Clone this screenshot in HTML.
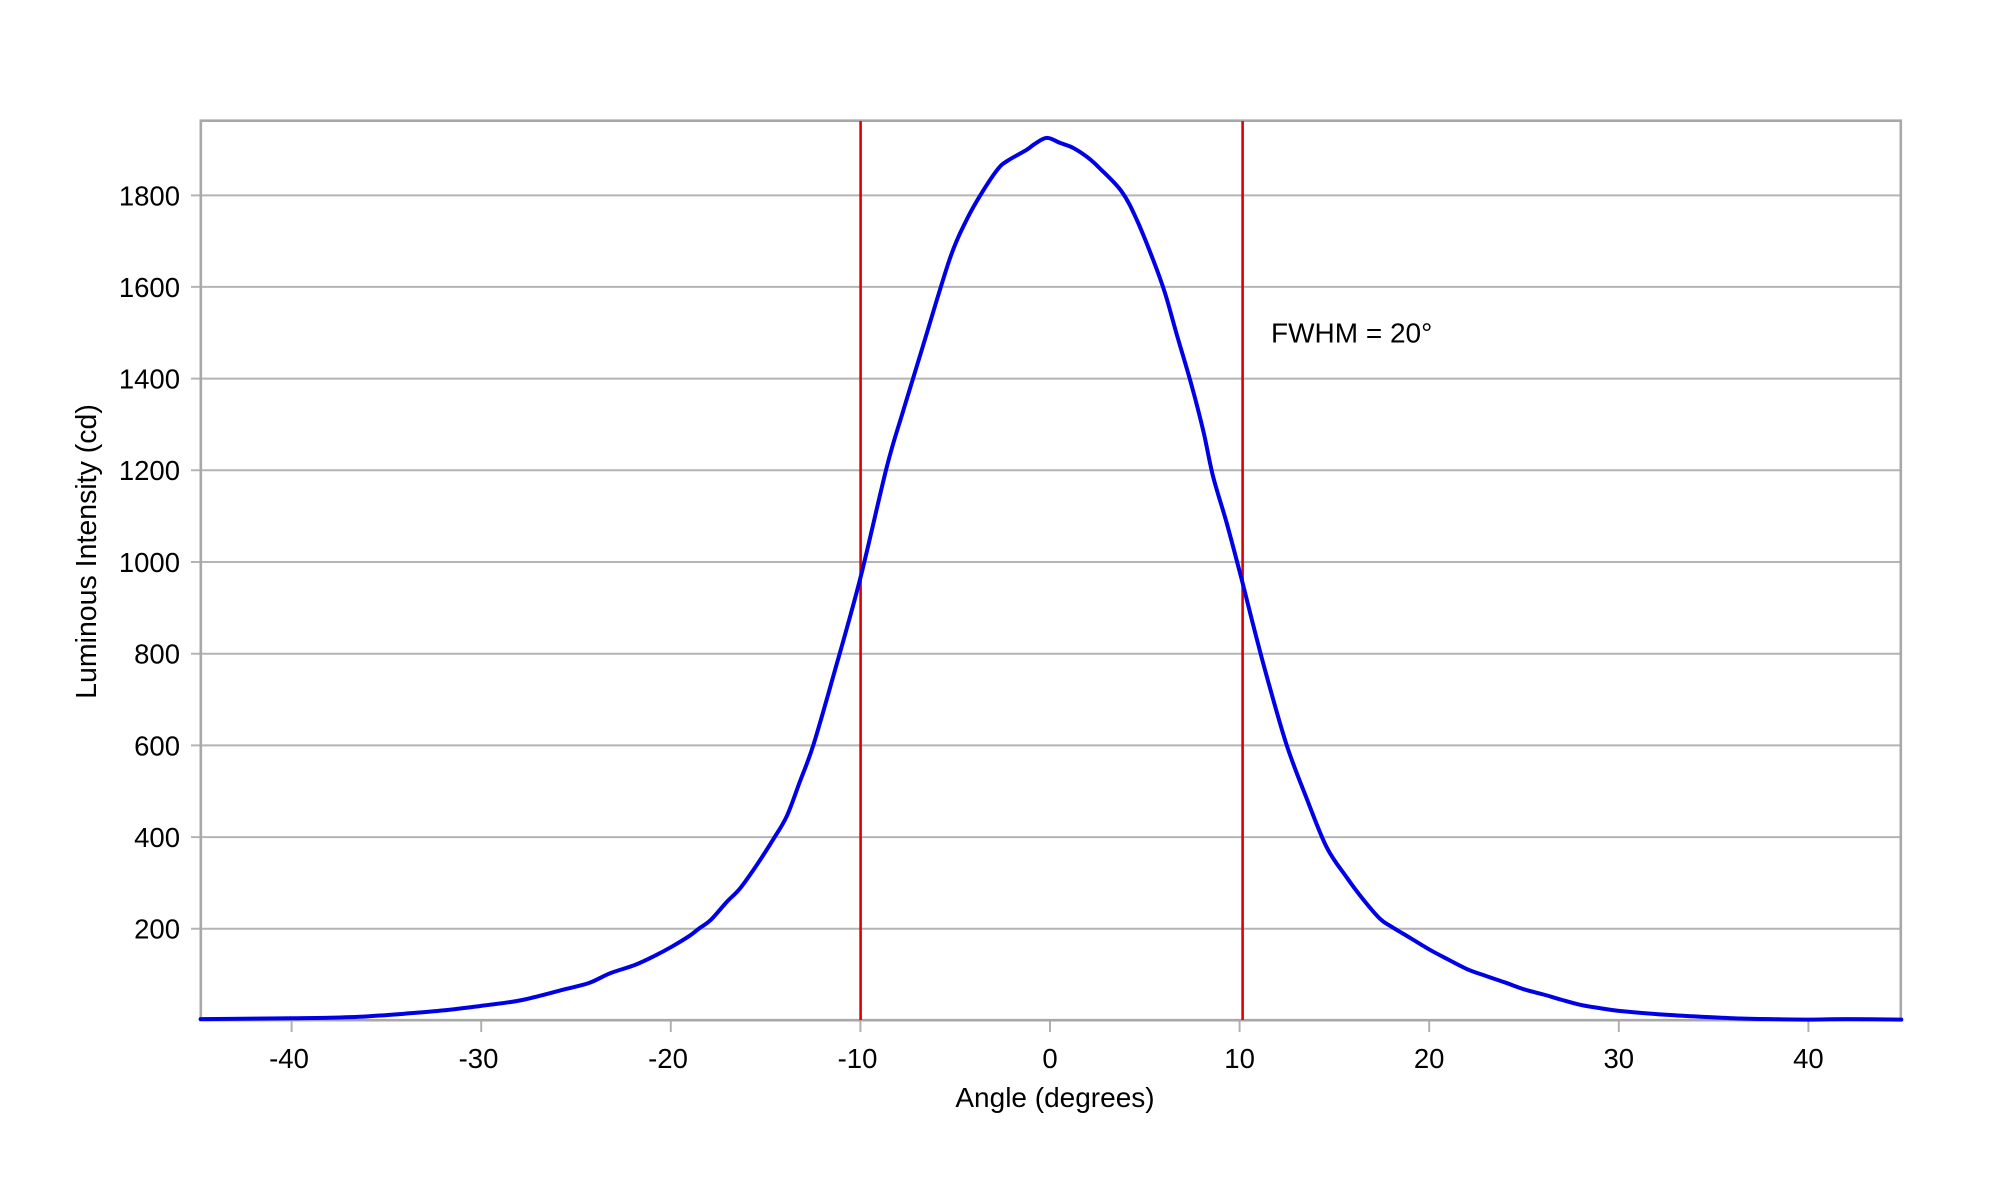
<!DOCTYPE html>
<html>
<head>
<meta charset="utf-8">
<style>
  html, body { margin:0; padding:0; background:#ffffff; }
  svg { display:block; }
  text { font-family: "Liberation Sans", Arial, sans-serif; fill:#000; }
</style>
</head>
<body>
<svg width="2000" height="1200" viewBox="0 0 2000 1200" xmlns="http://www.w3.org/2000/svg">
  <rect x="0" y="0" width="2000" height="1200" fill="#ffffff"/>

  <!-- horizontal grid lines -->
  <g stroke="#b4b4b4" stroke-width="2">
    <line x1="191" y1="928.8" x2="1901" y2="928.8"/>
    <line x1="191" y1="837.1" x2="1901" y2="837.1"/>
    <line x1="191" y1="745.4" x2="1901" y2="745.4"/>
    <line x1="191" y1="653.7" x2="1901" y2="653.7"/>
    <line x1="191" y1="562.0" x2="1901" y2="562.0"/>
    <line x1="191" y1="470.3" x2="1901" y2="470.3"/>
    <line x1="191" y1="378.6" x2="1901" y2="378.6"/>
    <line x1="191" y1="286.9" x2="1901" y2="286.9"/>
    <line x1="191" y1="195.4" x2="1901" y2="195.4"/>
  </g>

  <!-- x ticks -->
  <g stroke="#b0b0b0" stroke-width="2">
    <line x1="291.6" y1="1020" x2="291.6" y2="1032"/>
    <line x1="481.2" y1="1020" x2="481.2" y2="1032"/>
    <line x1="670.8" y1="1020" x2="670.8" y2="1032"/>
    <line x1="860.4" y1="1020" x2="860.4" y2="1032"/>
    <line x1="1050" y1="1020" x2="1050" y2="1032"/>
    <line x1="1239.6" y1="1020" x2="1239.6" y2="1032"/>
    <line x1="1429.2" y1="1020" x2="1429.2" y2="1032"/>
    <line x1="1618.8" y1="1020" x2="1618.8" y2="1032"/>
    <line x1="1808.4" y1="1020" x2="1808.4" y2="1032"/>
  </g>

  <!-- plot border -->
  <rect x="200.8" y="120.7" width="1700" height="899.5" fill="none" stroke="#a8a8a8" stroke-width="2.6"/>

  <!-- red FWHM lines -->
  <g stroke="#e00000" stroke-width="2.6">
    <line x1="860.6" y1="121" x2="860.6" y2="1020"/>
    <line x1="1242.6" y1="121" x2="1242.6" y2="1020"/>
  </g>

  <!-- data curve (polyline fallback; smoothed path generated below) -->
  <g id="rawg" transform="translate(1050,1020.5) scale(18.96,-0.4585)">
    <polyline id="raw" fill="none" stroke="#0000e6" stroke-width="4" stroke-linejoin="round" stroke-linecap="round" vector-effect="non-scaling-stroke"
      points="-44.8,3 -42,4 -40,5 -38,6 -36,9 -34,15 -32,22 -30,32 -28.5,40 -27.8,45 -26.7,56 -25.6,68 -24.3,82 -23.2,103 -21.9,121 -20.9,140 -19.95,161 -19,185 -18.5,201 -17.9,219 -17.04,259 -16.35,288 -15.47,339 -14.6,395 -13.89,445 -13.2,520 -12.48,601 -11.43,751 -10.02,962 -8.61,1207 -7.74,1330 -6.68,1474 -5.27,1663 -4.39,1747 -3.6,1805 -2.73,1858 -2.2,1876 -1.23,1899 -0.8,1912 -0.17,1925 0.53,1914 1.23,1903 2.0,1882 2.64,1858 3.78,1808 4.57,1747 5.45,1658 6.07,1586 6.68,1497 7.47,1385 8.09,1285 8.61,1185 9.32,1085 10.11,962 10.72,862 11.43,751 12.48,601 13.54,484 14.59,378 15.65,312 16.5,265 17.4,222 18.0,205 19,180 20,155 21,133 22,112 23,97 24,83 25,68 26,57 27,45 28,34 29,27 30,21 32,14 34,9 36,5 38,3 40,2 42,3 44.9,2"/>
  </g>
  <path id="smooth" fill="none" stroke="#0000e6" stroke-width="4" stroke-linejoin="round" stroke-linecap="round" d=""/>

  <!-- y tick labels -->
  <g font-size="27.5" text-anchor="end">
    <text x="180" y="938.7">200</text>
    <text x="180" y="847.0">400</text>
    <text x="180" y="755.3">600</text>
    <text x="180" y="663.6">800</text>
    <text x="180" y="571.9">1000</text>
    <text x="180" y="480.2">1200</text>
    <text x="180" y="388.5">1400</text>
    <text x="180" y="296.8">1600</text>
    <text x="180" y="205.3">1800</text>
  </g>

  <!-- x tick labels -->
  <g font-size="27.5" text-anchor="middle">
    <text x="289" y="1068">-40</text>
    <text x="478.5" y="1068">-30</text>
    <text x="668" y="1068">-20</text>
    <text x="857.5" y="1068">-10</text>
    <text x="1050" y="1068">0</text>
    <text x="1239.6" y="1068">10</text>
    <text x="1429.2" y="1068">20</text>
    <text x="1618.8" y="1068">30</text>
    <text x="1808.4" y="1068">40</text>
  </g>

  <!-- axis titles -->
  <text x="1055" y="1107" font-size="28" text-anchor="middle">Angle (degrees)</text>
  <text transform="translate(96,551.5) rotate(-90)" font-size="28.5" text-anchor="middle">Luminous Intensity (cd)</text>

  <!-- annotation -->
  <text x="1271" y="342.3" font-size="28">FWHM = 20°</text>
</svg>
<script>
(function(){
  try {
    var raw = document.getElementById('raw');
    var s = raw.getAttribute('points').trim().split(/\s+/);
    var P = s.map(function(p){ var a = p.split(','); 
      return [1050 + 18.96*parseFloat(a[0]), 1020.5 - 0.4585*parseFloat(a[1])]; });
    var d = 'M' + P[0][0].toFixed(2) + ',' + P[0][1].toFixed(2);
    for (var i = 0; i < P.length - 1; i++) {
      var p0 = P[i-1] || P[i], p1 = P[i], p2 = P[i+1], p3 = P[i+2] || P[i+1];
      var c1x = p1[0] + (p2[0]-p0[0])/6, c1y = p1[1] + (p2[1]-p0[1])/6;
      var c2x = p2[0] - (p3[0]-p1[0])/6, c2y = p2[1] - (p3[1]-p1[1])/6;
      d += 'C' + c1x.toFixed(2) + ',' + c1y.toFixed(2) + ' ' + c2x.toFixed(2) + ',' + c2y.toFixed(2) + ' ' + p2[0].toFixed(2) + ',' + p2[1].toFixed(2);
    }
    document.getElementById('smooth').setAttribute('d', d);
    document.getElementById('rawg').style.display = 'none';
  } catch(e) {}
})();
</script>
</body>
</html>
